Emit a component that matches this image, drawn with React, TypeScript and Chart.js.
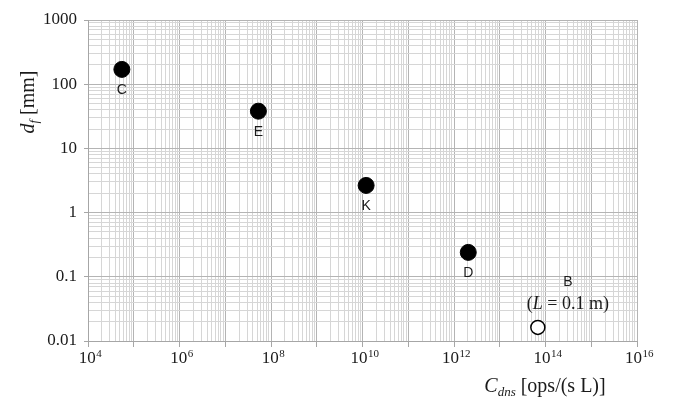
import React, { useEffect, useRef } from 'react';
import { Chart, registerables } from 'chart.js';

Chart.register(...registerables);

// ---- data ----
const pointNames = ['C', 'E', 'K', 'D'];
const cdnsValues = [5.5e4, 5.3e7, 1.2e10, 2.05e12];
const dfValues = [170, 38, 2.65, 0.24];

const openName = 'B';
const openCdns = [6.8e13];
const openDf = [0.0163];

const xExponents = [4, 5, 6, 7, 8, 9, 10, 11, 12, 13, 14, 15, 16];
const xLabelExponents = [4, 6, 8, 10, 12, 14, 16];
const yExponents = [-2, -1, 0, 1, 2, 3];
const yTickLabels = ['0.01', '0.1', '1', '10', '100', '1000'];

const SERIF = '"Liberation Serif", "Times New Roman", serif';
const SANS = '"Liberation Sans", Arial, sans-serif';

function gridTicks(exps: number[]) {
  const out: { value: number; major: boolean }[] = [];
  for (let i = 0; i < exps.length; i++) {
    const e = exps[i];
    if (i === exps.length - 1) {
      out.push({ value: Math.pow(10, e), major: true });
      break;
    }
    for (let m = 1; m <= 9; m++) {
      out.push({ value: parseFloat((m * Math.pow(10, e)).toPrecision(6)), major: m === 1 });
    }
  }
  return out;
}

function isPow10(v: number) {
  const l = Math.log10(v);
  return Math.abs(l - Math.round(l)) < 1e-9;
}

const MAJOR = '#b4b4b4';
const MINOR = '#d6d6d6';

const textPlugin = {
  id: 'textPlugin',
  afterDraw(chart: any) {
    const ctx = chart.ctx as CanvasRenderingContext2D;
    const xs = chart.scales.x;
    const ys = chart.scales.y;
    ctx.save();
    ctx.fillStyle = '#1a1a1a';
    ctx.textBaseline = 'alphabetic';
    ctx.textAlign = 'left';

    // x tick labels 10^n
    xLabelExponents.forEach((e) => {
      const px = xs.getPixelForValue(Math.pow(10, e));
      ctx.font = `17px ${SERIF}`;
      const w1 = ctx.measureText('10').width;
      ctx.font = `11px ${SERIF}`;
      const sup = String(e);
      const w2 = ctx.measureText(sup).width;
      const x0 = px - (w1 + w2) / 2 + 2;
      ctx.font = `17px ${SERIF}`;
      ctx.fillText('10', x0, 363);
      ctx.font = `11px ${SERIF}`;
      ctx.fillText(sup, x0 + w1 + 0.5, 357);
    });

    // x axis title
    {
      const parts = [
        { t: 'C', f: `italic 20px ${SERIF}`, dy: 0 },
        { t: 'dns', f: `italic 13px ${SERIF}`, dy: 4 },
        { t: ' [ops/(s L)]', f: `20px ${SERIF}`, dy: 0 },
      ];
      let total = 0;
      parts.forEach((p) => { ctx.font = p.f; total += ctx.measureText(p.t).width; });
      let x = 545 - total / 2;
      parts.forEach((p) => {
        ctx.font = p.f;
        ctx.fillText(p.t, x, 392 + p.dy);
        x += ctx.measureText(p.t).width;
      });
    }

    // y axis title (rotated)
    {
      const parts = [
        { t: 'd', f: `italic 20px ${SERIF}`, dy: 0 },
        { t: 'f', f: `italic 13px ${SERIF}`, dy: 4 },
        { t: ' [mm]', f: `20px ${SERIF}`, dy: 0 },
      ];
      let total = 0;
      parts.forEach((p) => { ctx.font = p.f; total += ctx.measureText(p.t).width; });
      ctx.save();
      ctx.translate(34, 102);
      ctx.rotate(-Math.PI / 2);
      let x = -total / 2;
      parts.forEach((p) => {
        ctx.font = p.f;
        ctx.fillText(p.t, x, p.dy);
        x += ctx.measureText(p.t).width;
      });
      ctx.restore();
    }

    // point labels
    const meta0 = chart.getDatasetMeta(0);
    ctx.font = `14px ${SANS}`;
    ctx.textAlign = 'center';
    ctx.textBaseline = 'middle';
    meta0.data.forEach((el: any, i: number) => {
      ctx.fillText(pointNames[i], el.x, el.y + 21);
    });

    // open point label
    const meta1 = chart.getDatasetMeta(1);
    const b = meta1.data[0];
    if (b) {
      const cx = b.x + 30;
      ctx.font = `14px ${SANS}`;
      ctx.fillText(openName, cx, b.y - 45);
      ctx.textAlign = 'left';
      ctx.textBaseline = 'alphabetic';
      const parts = [
        { t: '(', f: `18px ${SERIF}` },
        { t: 'L', f: `italic 18px ${SERIF}` },
        { t: ' = 0.1 m)', f: `18px ${SERIF}` },
      ];
      let total = 0;
      parts.forEach((p) => { ctx.font = p.f; total += ctx.measureText(p.t).width; });
      let x = cx - total / 2;
      parts.forEach((p) => {
        ctx.font = p.f;
        ctx.fillText(p.t, x, b.y - 18);
        x += ctx.measureText(p.t).width;
      });
    }
    ctx.restore();
  },
};

export default function App() {
  const ref = useRef<HTMLCanvasElement | null>(null);
  useEffect(() => {
    if (!ref.current) return;
    const filled = cdnsValues.map((x, i) => ({ x, y: dfValues[i] }));
    const open = openCdns.map((x, i) => ({ x, y: openDf[i] }));
    const chart = new Chart(ref.current, {
      type: 'scatter',
      data: {
        datasets: [
          {
            data: filled,
            backgroundColor: '#000',
            borderColor: '#000',
            pointRadius: 8,
            pointHoverRadius: 8,
            showLine: false,
          },
          {
            data: open,
            backgroundColor: '#fff',
            borderColor: '#000',
            borderWidth: 1.5,
            pointRadius: 7,
            pointHoverRadius: 7,
            showLine: false,
          },
        ],
      },
      options: {
        animation: false,
        responsive: false,
        layout: { padding: { top: 20, right: 36, left: 0, bottom: 0 } },
        plugins: { legend: { display: false }, tooltip: { enabled: false } },
        scales: {
          x: {
            type: 'logarithmic',
            min: 1e4,
            max: 1e16,
            afterBuildTicks: (s: any) => { s.ticks = gridTicks(xExponents); },
            afterFit: (s: any) => { s.height = 61; },
            ticks: { display: false, autoSkip: false },
            grid: {
              color: (c: any) => (c.tick && isPow10(c.tick.value) ? MAJOR : MINOR),
              tickColor: (c: any) => (c.tick && isPow10(c.tick.value) ? '#a6a6a6' : 'rgba(0,0,0,0)'),
              tickLength: 6,
              lineWidth: 1,
            },
            border: { display: true, color: '#a6a6a6', width: 1 },
          },
          y: {
            type: 'logarithmic',
            min: 0.01,
            max: 1000,
            afterBuildTicks: (s: any) => { s.ticks = gridTicks(yExponents); },
            afterFit: (s: any) => { s.width = 88; },
            ticks: {
              autoSkip: false,
              padding: 7,
              color: '#1a1a1a',
              font: { family: SERIF, size: 17 },
              callback: (v: any) => {
                const n = Number(v);
                if (!isPow10(n)) return '';
                const idx = yExponents.indexOf(Math.round(Math.log10(n)));
                return idx >= 0 ? yTickLabels[idx] : '';
              },
            },
            grid: {
              color: (c: any) => (c.tick && isPow10(c.tick.value) ? MAJOR : MINOR),
              tickColor: (c: any) => (c.tick && isPow10(c.tick.value) ? '#a6a6a6' : 'rgba(0,0,0,0)'),
              tickLength: 4,
              lineWidth: 1,
            },
            border: { display: true, color: '#a6a6a6', width: 1 },
          },
        },
      } as any,
      plugins: [textPlugin],
    });
    return () => chart.destroy();
  }, []);

  return (
    <div style={{ position: 'absolute', left: 0, top: 0, width: 673, height: 402, background: '#fff' }}>
      <canvas ref={ref} width={673} height={402} style={{ display: 'block' }} />
    </div>
  );
}
